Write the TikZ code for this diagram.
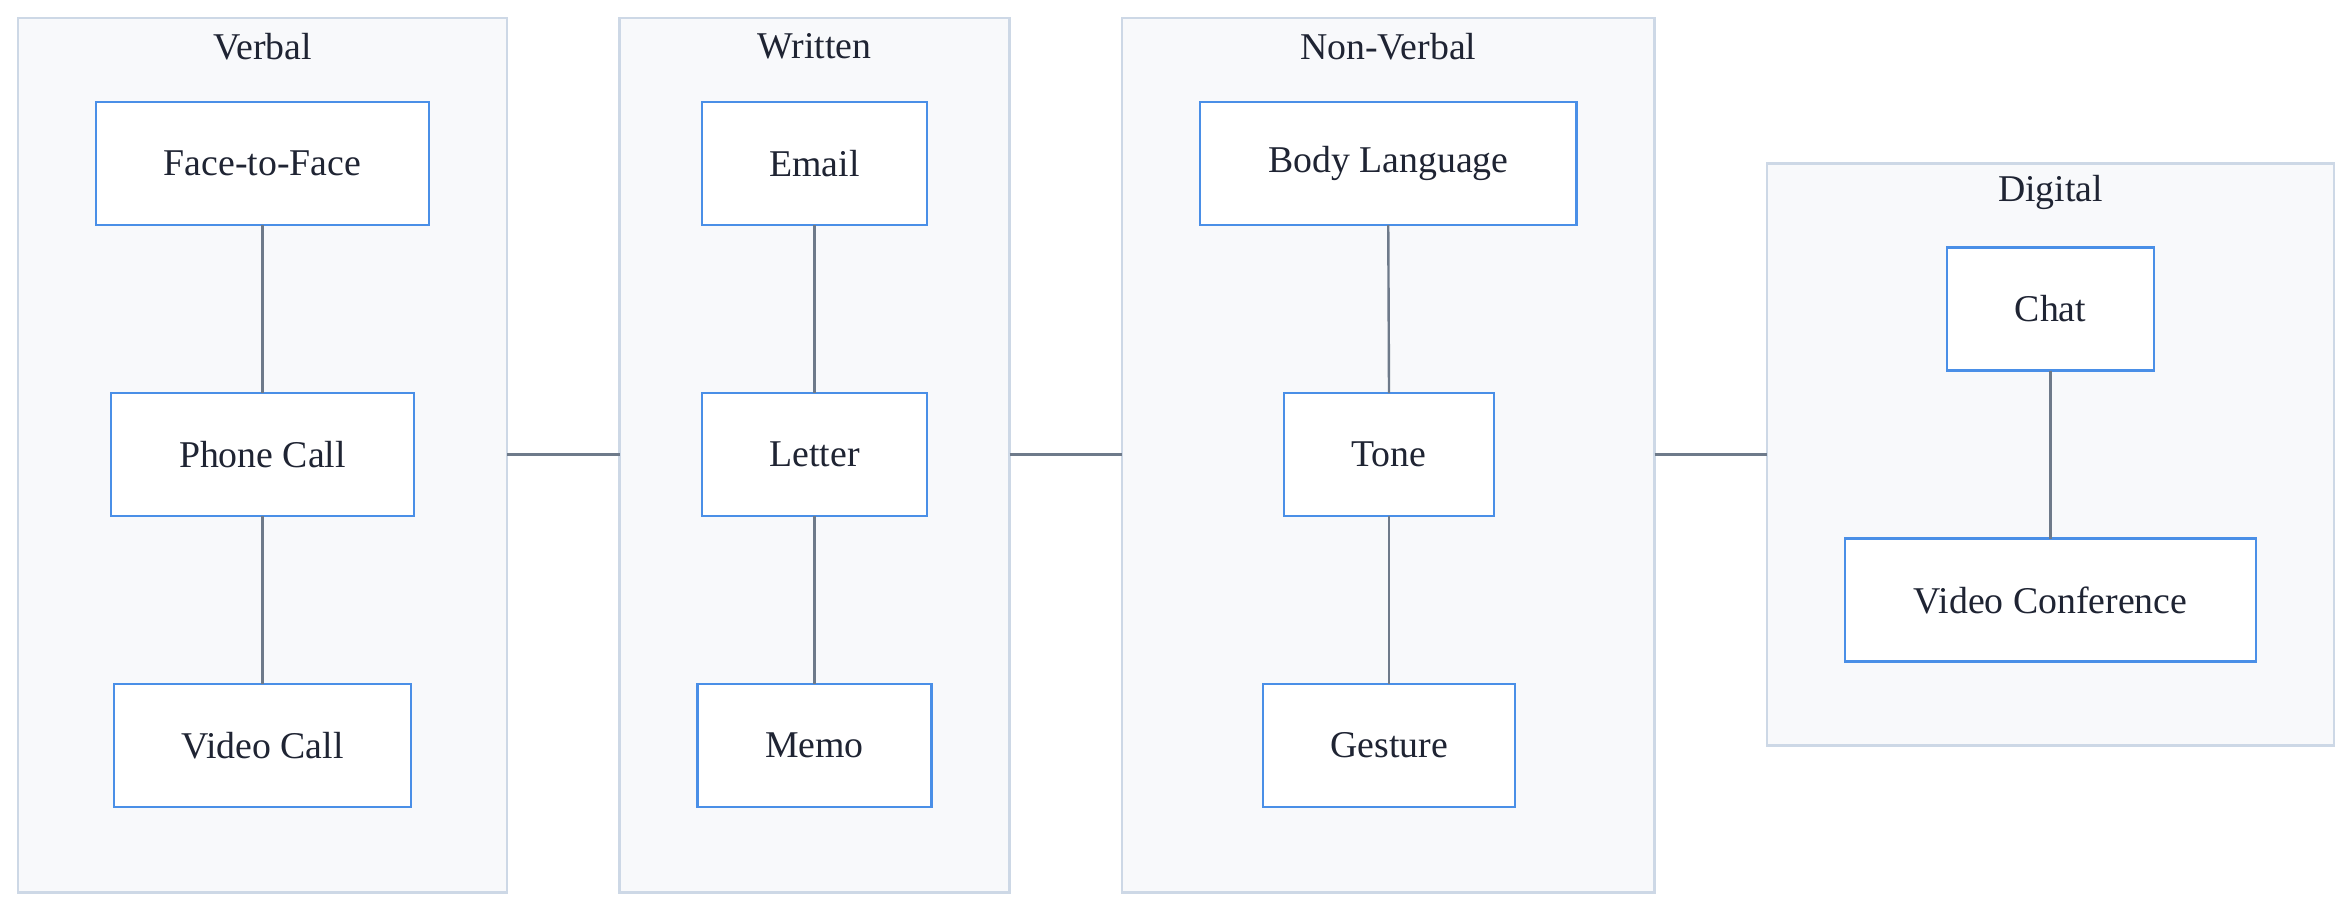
\documentclass[tikz,border=0pt]{standalone}
\usepackage{fontspec}
\setmainfont{Liberation Serif}
\definecolor{clfill}{HTML}{F8F9FB}
\definecolor{cldraw}{HTML}{CDD8E6}
\definecolor{boxdraw}{HTML}{4A8FE7}
\definecolor{edge}{HTML}{6E7A8A}
\definecolor{txt}{HTML}{1F2433}
\begin{document}
\begin{tikzpicture}[x=0.5pt,y=-0.5pt,
  cluster/.style={draw=cldraw,fill=clfill,line width=0.7pt},
  box/.style={draw=boxdraw,fill=white,line width=0.8pt},
  lbl/.style={font=\fontsize{12.6}{14}\selectfont,text=txt},
  conn/.style={draw=edge,line width=0.8pt}]
\useasboundingbox (0,0) rectangle (1568,607);
\fill[white] (0,0) rectangle (1568,607);
% clusters
\draw[cluster] (12,12) rectangle (338,595);
\draw[cluster] (413,12) rectangle (673,595);
\draw[cluster] (748,12) rectangle (1103,595);
\draw[cluster] (1178,109) rectangle (1556,497);
\node[lbl] (tv) at (175,31) {Verbal};
\node[lbl] (tw) at (543,31) {Written};
\node[lbl] (tn) at (925.5,31) {Non-Verbal};
\node[lbl] (td) at (1367,128) {Digital};
\coordinate (cvR) at (338,303);
\coordinate (cwL) at (413,303);
\coordinate (cwR) at (673,303);
\coordinate (cnL) at (748,303);
\coordinate (cnR) at (1103,303);
\coordinate (cdL) at (1178,303);
% boxes
\newcommand\mybox[6]{\draw[box] (#2,#3) rectangle (#4,#5);
  \node[lbl] (#1) at ({(#2+#4)/2},{(#3+#5)/2}) {#6};
  \coordinate (#1T) at ({(#2+#4)/2},#3);
  \coordinate (#1B) at ({(#2+#4)/2},#5);}
\mybox{ftf}{64}{68}{286}{150}{Face-to-Face}
\mybox{phone}{74}{262}{276}{344}{Phone Call}
\mybox{vcall}{76}{456}{274}{538}{Video Call}
\mybox{email}{468}{68}{618}{150}{Email}
\mybox{letter}{468}{262}{618}{344}{Letter}
\mybox{memo}{465}{456}{621}{538}{Memo}
\mybox{body}{800}{68}{1051}{150}{Body Language}
\mybox{tone}{856}{262}{996}{344}{Tone}
\mybox{gest}{842}{456}{1010}{538}{Gesture}
\mybox{chat}{1298}{165}{1436}{247}{Chat}
\mybox{vconf}{1230}{359}{1504}{441}{Video Conference}
% connectors
\draw[conn] (ftfB) -- (phoneT);
\draw[conn] (phoneB) -- (vcallT);
\draw[conn] (emailB) -- (letterT);
\draw[conn] (letterB) -- (memoT);
\draw[conn] (bodyB) -- (toneT);
\draw[conn] (toneB) -- (gestT);
\draw[conn] (chatB) -- (vconfT);
\draw[conn] (cvR) -- (cwL);
\draw[conn] (cwR) -- (cnL);
\draw[conn] (cnR) -- (cdL);
\end{tikzpicture}
\end{document}
